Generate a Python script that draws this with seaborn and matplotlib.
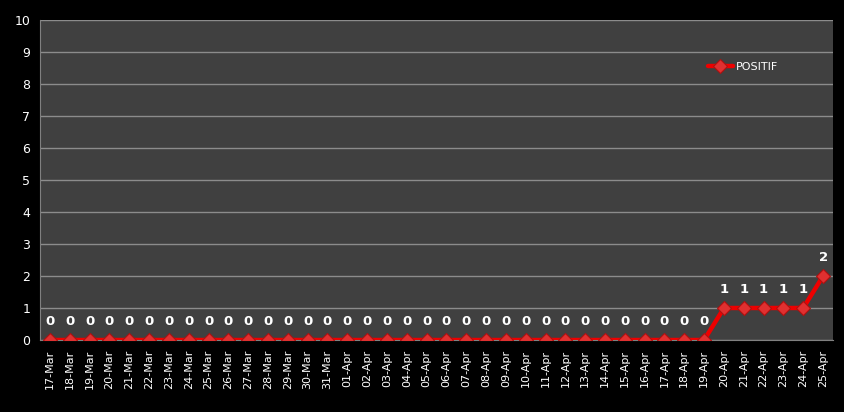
import pandas as pd
import seaborn as sns
import matplotlib.pyplot as plt

days = [
    "17-Mar", "18-Mar", "19-Mar", "20-Mar", "21-Mar", "22-Mar", "23-Mar",
    "24-Mar", "25-Mar", "26-Mar", "27-Mar", "28-Mar", "29-Mar", "30-Mar",
    "31-Mar", "01-Apr", "02-Apr", "03-Apr", "04-Apr", "05-Apr", "06-Apr",
    "07-Apr", "08-Apr", "09-Apr", "10-Apr", "11-Apr", "12-Apr", "13-Apr",
    "14-Apr", "15-Apr", "16-Apr", "17-Apr", "18-Apr", "19-Apr", "20-Apr",
    "21-Apr", "22-Apr", "23-Apr", "24-Apr", "25-Apr",
]
positif = [0] * 34 + [1, 1, 1, 1, 1, 2]
yticks = list(range(0, 11))

df = pd.DataFrame({"day": range(len(days)), "label": days, "POSITIF": positif})

sns.set_style("dark")
plt.rcParams['font.family'] = ['DejaVu Sans']

fig = plt.figure(figsize=(8.44, 4.12), dpi=100, facecolor="black")
ax = fig.add_axes([40 / 844, 1 - 340 / 412, (833 - 40) / 844, 320 / 412])
ax.set_facecolor("#404040")

sns.lineplot(data=df, x="day", y="POSITIF", ax=ax, color="#ee0000",
             linewidth=3.2, marker="D", markersize=7,
             markerfacecolor="#e03030", markeredgecolor="#b01010",
             markeredgewidth=0.8, label="POSITIF", zorder=3)

# data labels
for i, v in enumerate(positif):
    ax.text(i, v + 0.38, str(v), color="white", fontsize=9.5,
            fontweight="bold", ha="center", va="bottom")

ax.set_xlim(-0.5, len(days) - 0.5)
ax.set_ylim(0, 10)
ax.set_yticks(yticks)
ax.set_yticklabels([str(t) for t in yticks], color="white", fontsize=9)
ax.set_xticks(range(len(days)))
ax.set_xticklabels(days, rotation=90, color="white", fontsize=8)
ax.tick_params(axis="both", length=3, color="#808080", pad=4)
ax.set_xlabel("")
ax.set_ylabel("")

ax.grid(axis="y", color="#8c8c8c", linewidth=1)
ax.grid(axis="x", visible=False)
for side in ["top", "right"]:
    ax.spines[side].set_visible(False)
ax.spines["left"].set_color("#808080")
ax.spines["bottom"].set_color("#808080")

leg = ax.legend(loc="upper left", bbox_to_anchor=(0.83, 0.9), frameon=False,
                fontsize=8, handlelength=2.2, handletextpad=0.3)
for t in leg.get_texts():
    t.set_color("white")

fig.savefig("out.png", dpi=100, facecolor="black")
